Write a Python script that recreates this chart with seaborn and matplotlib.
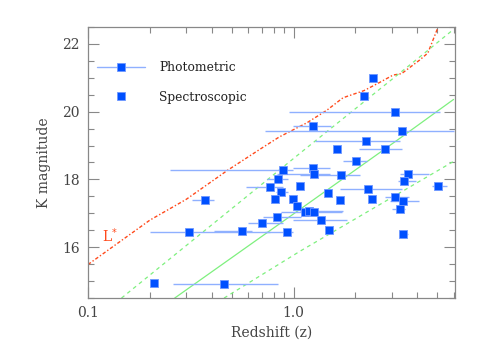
import numpy as np
import matplotlib
matplotlib.use("Agg")
import matplotlib.pyplot as plt
from matplotlib.lines import Line2D
from matplotlib.ticker import LogLocator, FixedLocator, FixedFormatter, MultipleLocator, NullFormatter
import pandas as pd
import seaborn as sns

# photometric redshifts (with range)
phot_z = [3.10, 1.24, 3.38, 2.25, 2.79, 2.02, 0.89, 1.24, 1.26, 1.71, 3.62, 0.84,
          3.44, 5.02, 0.77, 1.07, 0.87, 2.30, 0.37, 0.99, 3.12, 3.40, 3.29, 1.14,
          1.19, 1.26, 0.83, 1.36, 0.70, 0.31, 0.56, 0.93, 3.42, 0.46]
phot_K = [20.00, 19.58, 19.44, 19.13, 18.90, 18.55, 18.28, 18.34, 18.17, 18.12, 18.17, 18.02,
          17.94, 17.82, 17.77, 17.81, 17.64, 17.71, 17.40, 17.41, 17.48, 17.37, 17.12, 17.03,
          17.07, 17.03, 16.90, 16.80, 16.72, 16.45, 16.48, 16.45, 16.40, 14.91]
phot_lo = [0.95, 0.99, 0.73, 1.27, 2.08, 1.74, 0.25, 0.99, 0.83, 1.07, 3.29, 0.74,
           3.22, 4.71, 0.59, 1.03, 0.82, 1.68, 0.32, 0.95, 2.78, 2.94, 3.01, 0.87,
           1.07, 1.20, 0.71, 0.99, 0.60, 0.20, 0.41, 0.73, 3.29, 0.26]
phot_hi = [5.16, 1.52, 6.03, 3.29, 3.37, 2.28, 0.99, 1.51, 1.51, 2.10, 4.56, 0.94,
           3.94, 5.58, 0.89, 1.11, 0.94, 3.37, 0.41, 1.03, 3.64, 4.07, 3.48, 1.72,
           1.74, 1.32, 1.09, 1.82, 0.89, 0.77, 0.63, 0.99, 3.60, 0.84]

# spectroscopic redshifts
spec_z = [2.44, 2.19, 1.63, 1.47, 0.81, 1.68, 2.41, 1.04, 1.48, 0.21]
spec_K = [20.98, 20.47, 18.91, 17.59, 17.43, 17.38, 17.42, 17.22, 16.51, 14.93]

# L* track
lstar_z = [0.1, 0.2, 0.3, 0.48, 0.69, 0.85, 1.16, 1.45, 1.74, 2.2, 2.6, 3.05, 3.35, 4.1, 4.5, 5.05]
lstar_K = [15.49, 16.8, 17.41, 18.28, 18.9, 19.25, 19.67, 20.04, 20.41, 20.62, 20.85, 21.08, 21.12, 21.52, 21.73, 22.5]

# model tracks (green)
mid_z = [0.264, 1.07, 3.23, 6.0]
mid_K = [14.5, 17.11, 19.18, 20.36]
up_z = [0.1455, 1.157, 3.97, 5.98]
up_K = [14.5, 18.93, 21.54, 22.42]
low_z = [0.459, 1.073, 6.03]
low_K = [14.5, 15.88, 18.54]

sns.set_theme(style="ticks", rc={"axes.facecolor": "white", "figure.facecolor": "white"})
plt.rcParams["font.family"] = ["DejaVu Serif"]

fig = plt.figure(figsize=(4.81, 3.54), dpi=100, facecolor="white")
ax = fig.add_axes([0.183, 0.158, 0.763, 0.766])
ax.set_facecolor("white")

blue = "#0050ff"
errc = "#8fb0ff"
green = "#7ef07e"
red = "#ff4a1c"

ax.plot(lstar_z, lstar_K, color=red, lw=1.0, ls=(0, (2.5, 1.5, 1, 1.5)))
ax.plot(mid_z, mid_K, color=green, lw=0.9)
ax.plot(up_z, up_K, color=green, lw=0.9, ls=(0, (3, 3)))
ax.plot(low_z, low_K, color=green, lw=0.9, ls=(0, (3, 3)))

ax.hlines(phot_K, phot_lo, phot_hi, color=errc, lw=1.0, zorder=3)

phot = pd.DataFrame({"z": phot_z, "K": phot_K})
spec = pd.DataFrame({"z": spec_z, "K": spec_K})
sns.scatterplot(data=phot, x="z", y="K", marker="s", s=30, color=blue,
                edgecolor="#6f98ff", linewidth=0.6, ax=ax, zorder=4)
sns.scatterplot(data=spec, x="z", y="K", marker="s", s=30, color=blue,
                edgecolor="#6f98ff", linewidth=0.6, ax=ax, zorder=4)

ax.set_xscale("log")
ax.set_xlim(0.1, 6.1)
ax.set_ylim(14.5, 22.5)

ax.xaxis.set_major_locator(FixedLocator([0.1, 1.0]))
ax.xaxis.set_major_formatter(FixedFormatter(["0.1", "1.0"]))
ax.xaxis.set_minor_locator(LogLocator(base=10, subs=np.arange(2, 10)))
ax.xaxis.set_minor_formatter(NullFormatter())
ax.yaxis.set_major_locator(MultipleLocator(2))
ax.yaxis.set_minor_locator(MultipleLocator(0.5))

grey = "#888888"
for s in ax.spines.values():
    s.set_color(grey)
    s.set_linewidth(0.9)
ax.tick_params(which="both", direction="in", top=True, right=True, colors=grey,
               labelcolor="#444444", labelsize=10, width=0.8)
ax.tick_params(which="major", length=8, pad=6)
ax.tick_params(which="minor", length=4)

ax.set_xlabel("Redshift (z)", fontsize=10, color="#444444", labelpad=4)
ax.set_ylabel("K magnitude", fontsize=10, color="#444444", labelpad=8)

ax.text(0.117, 16.15, r"L$^{*}$", color=red, fontsize=10)

handles = [
    Line2D([], [], color=errc, lw=1.0, marker="s", markersize=5.8,
           markerfacecolor=blue, markeredgecolor="#6f98ff", markeredgewidth=0.6),
    Line2D([], [], ls="none", marker="s", markersize=5.8,
           markerfacecolor=blue, markeredgecolor="#6f98ff", markeredgewidth=0.6),
]
ax.legend(handles, ["Photometric", "Spectroscopic"], loc="upper left",
          frameon=False, fontsize=8.8, handlelength=4.0, handletextpad=1.1,
          labelspacing=1.35, borderaxespad=0.3, bbox_to_anchor=(0.0, 0.905),
          labelcolor="#222222")

fig.savefig("out.png", dpi=100, facecolor="white")
